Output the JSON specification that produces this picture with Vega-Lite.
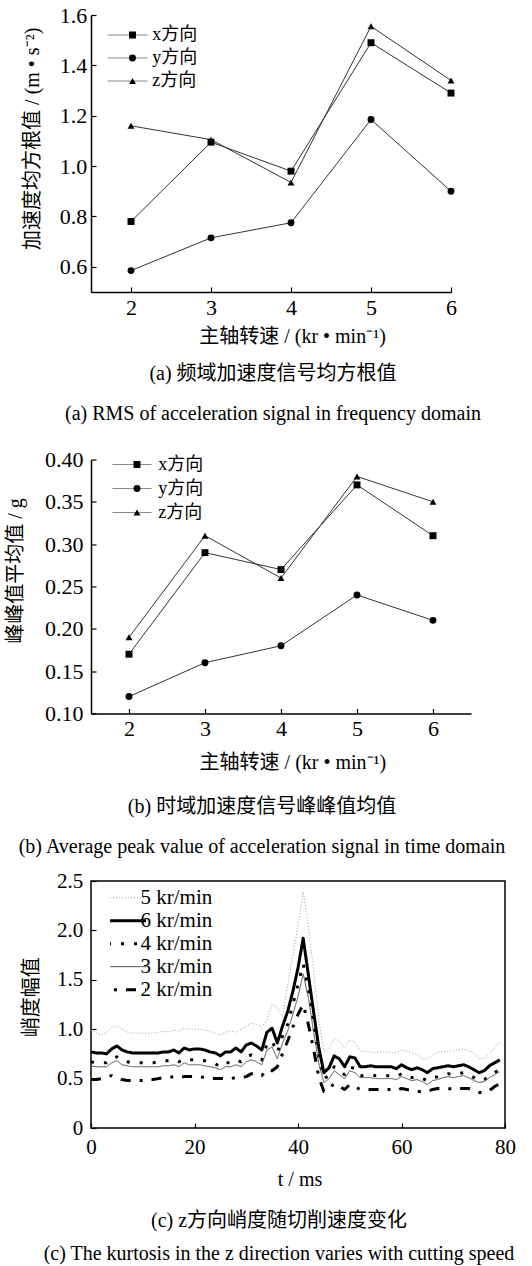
{
  "$schema": "https://vega.github.io/schema/vega-lite/v6.json",
  "padding": {"left": 5, "top": 4, "right": 0, "bottom": 0},
  "bounds": "flush",
  "spacing": 167.5,
  "resolve": {
    "scale": {"shape": "independent", "strokeWidth": "independent", "color": "independent", "strokeDash": "independent"},
    "legend": {"shape": "independent", "strokeWidth": "independent", "color": "independent", "strokeDash": "independent"}
  },
  "config": {
    "font": "Liberation Serif, Noto Sans CJK SC",
    "view": {"stroke": null},
    "axis": {
      "grid": false,
      "domainColor": "#000",
      "domainWidth": 1.5,
      "tickColor": "#000",
      "tickWidth": 1.2,
      "tickSize": -5,
      "labelColor": "#000",
      "labelFontSize": 22,
      "labelFlush": false,
      "labelOverlap": false,
      "titleColor": "#000",
      "titleFontSize": 20,
      "titleFontWeight": "normal",
      "titleBaseline": "middle"
    },
    "legend": {
      "padding": 0,
      "rowPadding": 0,
      "labelColor": "#000",
      "labelBaseline": "middle"
    },
    "title": {
      "fontSize": 20,
      "subtitleFontSize": 20,
      "fontWeight": "normal",
      "color": "#000",
      "subtitleColor": "#000",
      "subtitleFont": "Liberation Serif, Noto Sans CJK SC",
      "orient": "bottom",
      "anchor": "middle",
      "frame": "group"
    }
  },
  "datasets": {
    "freq": [
      {"speed": 2, "dir": "x方向", "rms": 0.78},
      {"speed": 3, "dir": "x方向", "rms": 1.095},
      {"speed": 4, "dir": "x方向", "rms": 0.98},
      {"speed": 5, "dir": "x方向", "rms": 1.49},
      {"speed": 6, "dir": "x方向", "rms": 1.29},
      {"speed": 2, "dir": "y方向", "rms": 0.585},
      {"speed": 3, "dir": "y方向", "rms": 0.715},
      {"speed": 4, "dir": "y方向", "rms": 0.775},
      {"speed": 5, "dir": "y方向", "rms": 1.185},
      {"speed": 6, "dir": "y方向", "rms": 0.9},
      {"speed": 2, "dir": "z方向", "rms": 1.16},
      {"speed": 3, "dir": "z方向", "rms": 1.105},
      {"speed": 4, "dir": "z方向", "rms": 0.935},
      {"speed": 5, "dir": "z方向", "rms": 1.555},
      {"speed": 6, "dir": "z方向", "rms": 1.34}
    ],
    "peak": [
      {"speed": 2, "dir": "x方向", "pp": 0.17},
      {"speed": 3, "dir": "x方向", "pp": 0.29},
      {"speed": 4, "dir": "x方向", "pp": 0.27},
      {"speed": 5, "dir": "x方向", "pp": 0.37},
      {"speed": 6, "dir": "x方向", "pp": 0.31},
      {"speed": 2, "dir": "y方向", "pp": 0.12},
      {"speed": 3, "dir": "y方向", "pp": 0.16},
      {"speed": 4, "dir": "y方向", "pp": 0.18},
      {"speed": 5, "dir": "y方向", "pp": 0.24},
      {"speed": 6, "dir": "y方向", "pp": 0.21},
      {"speed": 2, "dir": "z方向", "pp": 0.19},
      {"speed": 3, "dir": "z方向", "pp": 0.31},
      {"speed": 4, "dir": "z方向", "pp": 0.26},
      {"speed": 5, "dir": "z方向", "pp": 0.38},
      {"speed": 6, "dir": "z方向", "pp": 0.35}
    ],
    "kurt": [
      {"t":0,"rpm":5,"k":0.99},{"t":1,"rpm":5,"k":0.96},{"t":2,"rpm":5,"k":0.94},{"t":3,"rpm":5,"k":0.97},{"t":4,"rpm":5,"k":1.02},{"t":5,"rpm":5,"k":1.03},{"t":6,"rpm":5,"k":1.0},{"t":7,"rpm":5,"k":0.97},{"t":8,"rpm":5,"k":0.96},{"t":9,"rpm":5,"k":0.96},
      {"t":10,"rpm":5,"k":0.96},{"t":11,"rpm":5,"k":0.96},{"t":12,"rpm":5,"k":0.96},{"t":13,"rpm":5,"k":0.97},{"t":14,"rpm":5,"k":0.98},{"t":15,"rpm":5,"k":0.97},{"t":16,"rpm":5,"k":0.99},{"t":17,"rpm":5,"k":0.98},{"t":18,"rpm":5,"k":1.01},{"t":19,"rpm":5,"k":1.0},
      {"t":20,"rpm":5,"k":1.0},{"t":21,"rpm":5,"k":1.0},{"t":22,"rpm":5,"k":0.99},{"t":23,"rpm":5,"k":0.98},{"t":24,"rpm":5,"k":0.96},{"t":25,"rpm":5,"k":0.94},{"t":26,"rpm":5,"k":0.97},{"t":27,"rpm":5,"k":0.98},{"t":28,"rpm":5,"k":0.97},{"t":29,"rpm":5,"k":1.0},
      {"t":30,"rpm":5,"k":1.03},{"t":31,"rpm":5,"k":1.06},{"t":32,"rpm":5,"k":1.05},{"t":33,"rpm":5,"k":1.02},{"t":34,"rpm":5,"k":1.1},{"t":35,"rpm":5,"k":1.25},{"t":36,"rpm":5,"k":1.22},{"t":37,"rpm":5,"k":1.12},{"t":38,"rpm":5,"k":1.45},{"t":39,"rpm":5,"k":1.75},
      {"t":40,"rpm":5,"k":2.05},{"t":41,"rpm":5,"k":2.39},{"t":42,"rpm":5,"k":2.05},{"t":43,"rpm":5,"k":1.6},{"t":44,"rpm":5,"k":1.1},{"t":45,"rpm":5,"k":0.78},{"t":46,"rpm":5,"k":0.8},{"t":47,"rpm":5,"k":0.91},{"t":48,"rpm":5,"k":0.88},{"t":49,"rpm":5,"k":0.81},
      {"t":50,"rpm":5,"k":0.89},{"t":51,"rpm":5,"k":0.87},{"t":52,"rpm":5,"k":0.78},{"t":53,"rpm":5,"k":0.77},{"t":54,"rpm":5,"k":0.77},{"t":55,"rpm":5,"k":0.76},{"t":56,"rpm":5,"k":0.77},{"t":57,"rpm":5,"k":0.77},{"t":58,"rpm":5,"k":0.76},{"t":59,"rpm":5,"k":0.76},
      {"t":60,"rpm":5,"k":0.79},{"t":61,"rpm":5,"k":0.78},{"t":62,"rpm":5,"k":0.76},{"t":63,"rpm":5,"k":0.74},{"t":64,"rpm":5,"k":0.7},{"t":65,"rpm":5,"k":0.7},{"t":66,"rpm":5,"k":0.74},{"t":67,"rpm":5,"k":0.77},{"t":68,"rpm":5,"k":0.77},{"t":69,"rpm":5,"k":0.78},
      {"t":70,"rpm":5,"k":0.78},{"t":71,"rpm":5,"k":0.79},{"t":72,"rpm":5,"k":0.8},{"t":73,"rpm":5,"k":0.78},{"t":74,"rpm":5,"k":0.76},{"t":75,"rpm":5,"k":0.7},{"t":76,"rpm":5,"k":0.7},{"t":77,"rpm":5,"k":0.75},{"t":78,"rpm":5,"k":0.81},{"t":79,"rpm":5,"k":0.87},

      {"t":0,"rpm":6,"k":0.77},{"t":1,"rpm":6,"k":0.76},{"t":2,"rpm":6,"k":0.76},{"t":3,"rpm":6,"k":0.75},{"t":4,"rpm":6,"k":0.8},{"t":5,"rpm":6,"k":0.83},{"t":6,"rpm":6,"k":0.79},{"t":7,"rpm":6,"k":0.77},{"t":8,"rpm":6,"k":0.76},{"t":9,"rpm":6,"k":0.76},
      {"t":10,"rpm":6,"k":0.76},{"t":11,"rpm":6,"k":0.76},{"t":12,"rpm":6,"k":0.76},{"t":13,"rpm":6,"k":0.76},{"t":14,"rpm":6,"k":0.77},{"t":15,"rpm":6,"k":0.77},{"t":16,"rpm":6,"k":0.79},{"t":17,"rpm":6,"k":0.76},{"t":18,"rpm":6,"k":0.81},{"t":19,"rpm":6,"k":0.79},
      {"t":20,"rpm":6,"k":0.8},{"t":21,"rpm":6,"k":0.8},{"t":22,"rpm":6,"k":0.79},{"t":23,"rpm":6,"k":0.77},{"t":24,"rpm":6,"k":0.76},{"t":25,"rpm":6,"k":0.73},{"t":26,"rpm":6,"k":0.77},{"t":27,"rpm":6,"k":0.77},{"t":28,"rpm":6,"k":0.81},{"t":29,"rpm":6,"k":0.77},
      {"t":30,"rpm":6,"k":0.84},{"t":31,"rpm":6,"k":0.86},{"t":32,"rpm":6,"k":0.83},{"t":33,"rpm":6,"k":0.79},{"t":34,"rpm":6,"k":0.97},{"t":35,"rpm":6,"k":1.01},{"t":36,"rpm":6,"k":0.86},{"t":37,"rpm":6,"k":1.03},{"t":38,"rpm":6,"k":1.18},{"t":39,"rpm":6,"k":1.38},
      {"t":40,"rpm":6,"k":1.62},{"t":41,"rpm":6,"k":1.92},{"t":42,"rpm":6,"k":1.55},{"t":43,"rpm":6,"k":1.18},{"t":44,"rpm":6,"k":0.82},{"t":45,"rpm":6,"k":0.56},{"t":46,"rpm":6,"k":0.61},{"t":47,"rpm":6,"k":0.73},{"t":48,"rpm":6,"k":0.7},{"t":49,"rpm":6,"k":0.62},
      {"t":50,"rpm":6,"k":0.72},{"t":51,"rpm":6,"k":0.71},{"t":52,"rpm":6,"k":0.62},{"t":53,"rpm":6,"k":0.62},{"t":54,"rpm":6,"k":0.63},{"t":55,"rpm":6,"k":0.62},{"t":56,"rpm":6,"k":0.62},{"t":57,"rpm":6,"k":0.62},{"t":58,"rpm":6,"k":0.62},{"t":59,"rpm":6,"k":0.6},
      {"t":60,"rpm":6,"k":0.64},{"t":61,"rpm":6,"k":0.61},{"t":62,"rpm":6,"k":0.59},{"t":63,"rpm":6,"k":0.61},{"t":64,"rpm":6,"k":0.59},{"t":65,"rpm":6,"k":0.56},{"t":66,"rpm":6,"k":0.6},{"t":67,"rpm":6,"k":0.61},{"t":68,"rpm":6,"k":0.62},{"t":69,"rpm":6,"k":0.63},
      {"t":70,"rpm":6,"k":0.62},{"t":71,"rpm":6,"k":0.63},{"t":72,"rpm":6,"k":0.64},{"t":73,"rpm":6,"k":0.62},{"t":74,"rpm":6,"k":0.59},{"t":75,"rpm":6,"k":0.56},{"t":76,"rpm":6,"k":0.58},{"t":77,"rpm":6,"k":0.63},{"t":78,"rpm":6,"k":0.66},{"t":79,"rpm":6,"k":0.69},

      {"t":0,"rpm":4,"k":0.67},{"t":1,"rpm":4,"k":0.66},{"t":2,"rpm":4,"k":0.66},{"t":3,"rpm":4,"k":0.66},{"t":4,"rpm":4,"k":0.7},{"t":5,"rpm":4,"k":0.72},{"t":6,"rpm":4,"k":0.68},{"t":7,"rpm":4,"k":0.67},{"t":8,"rpm":4,"k":0.66},{"t":9,"rpm":4,"k":0.66},
      {"t":10,"rpm":4,"k":0.66},{"t":11,"rpm":4,"k":0.66},{"t":12,"rpm":4,"k":0.66},{"t":13,"rpm":4,"k":0.67},{"t":14,"rpm":4,"k":0.68},{"t":15,"rpm":4,"k":0.68},{"t":16,"rpm":4,"k":0.69},{"t":17,"rpm":4,"k":0.67},{"t":18,"rpm":4,"k":0.7},{"t":19,"rpm":4,"k":0.69},
      {"t":20,"rpm":4,"k":0.69},{"t":21,"rpm":4,"k":0.69},{"t":22,"rpm":4,"k":0.68},{"t":23,"rpm":4,"k":0.67},{"t":24,"rpm":4,"k":0.65},{"t":25,"rpm":4,"k":0.62},{"t":26,"rpm":4,"k":0.66},{"t":27,"rpm":4,"k":0.66},{"t":28,"rpm":4,"k":0.69},{"t":29,"rpm":4,"k":0.67},
      {"t":30,"rpm":4,"k":0.72},{"t":31,"rpm":4,"k":0.74},{"t":32,"rpm":4,"k":0.72},{"t":33,"rpm":4,"k":0.69},{"t":34,"rpm":4,"k":0.85},{"t":35,"rpm":4,"k":0.88},{"t":36,"rpm":4,"k":0.76},{"t":37,"rpm":4,"k":0.93},{"t":38,"rpm":4,"k":1.05},{"t":39,"rpm":4,"k":1.25},
      {"t":40,"rpm":4,"k":1.45},{"t":41,"rpm":4,"k":1.66},{"t":42,"rpm":4,"k":1.4},{"t":43,"rpm":4,"k":1.05},{"t":44,"rpm":4,"k":0.7},{"t":45,"rpm":4,"k":0.5},{"t":46,"rpm":4,"k":0.53},{"t":47,"rpm":4,"k":0.62},{"t":48,"rpm":4,"k":0.58},{"t":49,"rpm":4,"k":0.54},
      {"t":50,"rpm":4,"k":0.62},{"t":51,"rpm":4,"k":0.6},{"t":52,"rpm":4,"k":0.53},{"t":53,"rpm":4,"k":0.53},{"t":54,"rpm":4,"k":0.54},{"t":55,"rpm":4,"k":0.53},{"t":56,"rpm":4,"k":0.53},{"t":57,"rpm":4,"k":0.53},{"t":58,"rpm":4,"k":0.53},{"t":59,"rpm":4,"k":0.52},
      {"t":60,"rpm":4,"k":0.55},{"t":61,"rpm":4,"k":0.53},{"t":62,"rpm":4,"k":0.51},{"t":63,"rpm":4,"k":0.52},{"t":64,"rpm":4,"k":0.5},{"t":65,"rpm":4,"k":0.48},{"t":66,"rpm":4,"k":0.51},{"t":67,"rpm":4,"k":0.52},{"t":68,"rpm":4,"k":0.54},{"t":69,"rpm":4,"k":0.55},
      {"t":70,"rpm":4,"k":0.54},{"t":71,"rpm":4,"k":0.55},{"t":72,"rpm":4,"k":0.56},{"t":73,"rpm":4,"k":0.54},{"t":74,"rpm":4,"k":0.51},{"t":75,"rpm":4,"k":0.48},{"t":76,"rpm":4,"k":0.49},{"t":77,"rpm":4,"k":0.53},{"t":78,"rpm":4,"k":0.56},{"t":79,"rpm":4,"k":0.6},

      {"t":0,"rpm":3,"k":0.63},{"t":1,"rpm":3,"k":0.62},{"t":2,"rpm":3,"k":0.62},{"t":3,"rpm":3,"k":0.62},{"t":4,"rpm":3,"k":0.66},{"t":5,"rpm":3,"k":0.68},{"t":6,"rpm":3,"k":0.64},{"t":7,"rpm":3,"k":0.63},{"t":8,"rpm":3,"k":0.62},{"t":9,"rpm":3,"k":0.62},
      {"t":10,"rpm":3,"k":0.62},{"t":11,"rpm":3,"k":0.62},{"t":12,"rpm":3,"k":0.62},{"t":13,"rpm":3,"k":0.62},{"t":14,"rpm":3,"k":0.63},{"t":15,"rpm":3,"k":0.63},{"t":16,"rpm":3,"k":0.64},{"t":17,"rpm":3,"k":0.62},{"t":18,"rpm":3,"k":0.66},{"t":19,"rpm":3,"k":0.64},
      {"t":20,"rpm":3,"k":0.64},{"t":21,"rpm":3,"k":0.64},{"t":22,"rpm":3,"k":0.63},{"t":23,"rpm":3,"k":0.62},{"t":24,"rpm":3,"k":0.61},{"t":25,"rpm":3,"k":0.59},{"t":26,"rpm":3,"k":0.62},{"t":27,"rpm":3,"k":0.62},{"t":28,"rpm":3,"k":0.64},{"t":29,"rpm":3,"k":0.62},
      {"t":30,"rpm":3,"k":0.67},{"t":31,"rpm":3,"k":0.69},{"t":32,"rpm":3,"k":0.67},{"t":33,"rpm":3,"k":0.64},{"t":34,"rpm":3,"k":0.79},{"t":35,"rpm":3,"k":0.82},{"t":36,"rpm":3,"k":0.7},{"t":37,"rpm":3,"k":0.86},{"t":38,"rpm":3,"k":0.98},{"t":39,"rpm":3,"k":1.15},
      {"t":40,"rpm":3,"k":1.33},{"t":41,"rpm":3,"k":1.56},{"t":42,"rpm":3,"k":1.32},{"t":43,"rpm":3,"k":0.98},{"t":44,"rpm":3,"k":0.66},{"t":45,"rpm":3,"k":0.46},{"t":46,"rpm":3,"k":0.5},{"t":47,"rpm":3,"k":0.58},{"t":48,"rpm":3,"k":0.54},{"t":49,"rpm":3,"k":0.5},
      {"t":50,"rpm":3,"k":0.58},{"t":51,"rpm":3,"k":0.56},{"t":52,"rpm":3,"k":0.51},{"t":53,"rpm":3,"k":0.51},{"t":54,"rpm":3,"k":0.51},{"t":55,"rpm":3,"k":0.5},{"t":56,"rpm":3,"k":0.5},{"t":57,"rpm":3,"k":0.5},{"t":58,"rpm":3,"k":0.5},{"t":59,"rpm":3,"k":0.49},
      {"t":60,"rpm":3,"k":0.52},{"t":61,"rpm":3,"k":0.5},{"t":62,"rpm":3,"k":0.48},{"t":63,"rpm":3,"k":0.49},{"t":64,"rpm":3,"k":0.47},{"t":65,"rpm":3,"k":0.44},{"t":66,"rpm":3,"k":0.48},{"t":67,"rpm":3,"k":0.49},{"t":68,"rpm":3,"k":0.51},{"t":69,"rpm":3,"k":0.52},
      {"t":70,"rpm":3,"k":0.51},{"t":71,"rpm":3,"k":0.52},{"t":72,"rpm":3,"k":0.53},{"t":73,"rpm":3,"k":0.51},{"t":74,"rpm":3,"k":0.48},{"t":75,"rpm":3,"k":0.46},{"t":76,"rpm":3,"k":0.47},{"t":77,"rpm":3,"k":0.51},{"t":78,"rpm":3,"k":0.54},{"t":79,"rpm":3,"k":0.57},

      {"t":0,"rpm":2,"k":0.49},{"t":1,"rpm":2,"k":0.49},{"t":2,"rpm":2,"k":0.5},{"t":3,"rpm":2,"k":0.52},{"t":4,"rpm":2,"k":0.53},{"t":5,"rpm":2,"k":0.51},{"t":6,"rpm":2,"k":0.49},{"t":7,"rpm":2,"k":0.48},{"t":8,"rpm":2,"k":0.48},{"t":9,"rpm":2,"k":0.48},
      {"t":10,"rpm":2,"k":0.48},{"t":11,"rpm":2,"k":0.49},{"t":12,"rpm":2,"k":0.49},{"t":13,"rpm":2,"k":0.5},{"t":14,"rpm":2,"k":0.51},{"t":15,"rpm":2,"k":0.51},{"t":16,"rpm":2,"k":0.52},{"t":17,"rpm":2,"k":0.51},{"t":18,"rpm":2,"k":0.52},{"t":19,"rpm":2,"k":0.52},
      {"t":20,"rpm":2,"k":0.52},{"t":21,"rpm":2,"k":0.52},{"t":22,"rpm":2,"k":0.51},{"t":23,"rpm":2,"k":0.5},{"t":24,"rpm":2,"k":0.5},{"t":25,"rpm":2,"k":0.5},{"t":26,"rpm":2,"k":0.5},{"t":27,"rpm":2,"k":0.5},{"t":28,"rpm":2,"k":0.51},{"t":29,"rpm":2,"k":0.51},
      {"t":30,"rpm":2,"k":0.52},{"t":31,"rpm":2,"k":0.55},{"t":32,"rpm":2,"k":0.55},{"t":33,"rpm":2,"k":0.53},{"t":34,"rpm":2,"k":0.59},{"t":35,"rpm":2,"k":0.58},{"t":36,"rpm":2,"k":0.62},{"t":37,"rpm":2,"k":0.75},{"t":38,"rpm":2,"k":0.88},{"t":39,"rpm":2,"k":1.02},
      {"t":40,"rpm":2,"k":1.15},{"t":41,"rpm":2,"k":1.25},{"t":42,"rpm":2,"k":1.05},{"t":43,"rpm":2,"k":0.8},{"t":44,"rpm":2,"k":0.52},{"t":45,"rpm":2,"k":0.37},{"t":46,"rpm":2,"k":0.4},{"t":47,"rpm":2,"k":0.45},{"t":48,"rpm":2,"k":0.42},{"t":49,"rpm":2,"k":0.39},
      {"t":50,"rpm":2,"k":0.44},{"t":51,"rpm":2,"k":0.42},{"t":52,"rpm":2,"k":0.39},{"t":53,"rpm":2,"k":0.39},{"t":54,"rpm":2,"k":0.39},{"t":55,"rpm":2,"k":0.39},{"t":56,"rpm":2,"k":0.39},{"t":57,"rpm":2,"k":0.39},{"t":58,"rpm":2,"k":0.39},{"t":59,"rpm":2,"k":0.38},
      {"t":60,"rpm":2,"k":0.4},{"t":61,"rpm":2,"k":0.39},{"t":62,"rpm":2,"k":0.38},{"t":63,"rpm":2,"k":0.37},{"t":64,"rpm":2,"k":0.37},{"t":65,"rpm":2,"k":0.37},{"t":66,"rpm":2,"k":0.39},{"t":67,"rpm":2,"k":0.4},{"t":68,"rpm":2,"k":0.4},{"t":69,"rpm":2,"k":0.4},
      {"t":70,"rpm":2,"k":0.39},{"t":71,"rpm":2,"k":0.4},{"t":72,"rpm":2,"k":0.4},{"t":73,"rpm":2,"k":0.4},{"t":74,"rpm":2,"k":0.38},{"t":75,"rpm":2,"k":0.36},{"t":76,"rpm":2,"k":0.36},{"t":77,"rpm":2,"k":0.38},{"t":78,"rpm":2,"k":0.42},{"t":79,"rpm":2,"k":0.45}
    ]
  },
  "vconcat": [
    {
      "width": 360,
      "height": 277,
      "data": {"name": "freq"},
      "title": {
        "text": "(a)  频域加速度信号均方根值",
        "subtitle": "(a)  RMS of acceleration signal in frequency domain",
        "offset": 18,
        "subtitlePadding": 20,
        "dx": 2
      },
      "encoding": {
        "x": {
          "field": "speed",
          "type": "quantitative",
          "scale": {"domain": [1.5, 6], "nice": false},
          "axis": {
            "values": [2, 3, 4, 5, 6],
            "format": "d",
            "labelPadding": 10.5,
            "title": "主轴转速 / (kr • min⁻¹)",
            "titleX": 201,
            "titleY": 44.4
          }
        },
        "y": {
          "field": "rms",
          "type": "quantitative",
          "scale": {"domain": [0.5, 1.6], "nice": false, "zero": false},
          "axis": {
            "values": [0.6, 0.8, 1.0, 1.2, 1.4, 1.6],
            "format": ".1f",
            "labelPadding": 9.3,
            "title": "加速度均方根值 / (m • s⁻²)",
            "titleX": -58.5,
            "titleY": 123.3
          }
        }
      },
      "layer": [
        {
          "mark": {"type": "line", "color": "#333"},
          "encoding": {
            "strokeWidth": {
              "field": "dir",
              "type": "ordinal",
              "scale": {"domain": ["x方向", "y方向", "z方向"], "range": [1, 1, 1]},
              "legend": {
                "orient": "none",
                "legendX": 16,
                "legendY": 8.5,
                "title": null,
                "symbolType": "stroke",
                "symbolSize": 1600,
                "symbolStrokeColor": "#8a8a8a",
                "symbolStrokeWidth": 1,
                "labelExpr": "''",
                "clipHeight": 23
              }
            }
          }
        },
        {
          "mark": {"type": "point", "filled": true, "color": "#000", "opacity": 1, "size": 48},
          "encoding": {
            "shape": {
              "field": "dir",
              "type": "nominal",
              "scale": {"range": ["square", "circle", "triangle-up"]},
              "legend": {
                "orient": "none",
                "legendX": 32.5,
                "legendY": 8.5,
                "title": null,
                "symbolSize": 48,
                "symbolFillColor": "#000",
                "symbolStrokeWidth": 0,
                "labelFontSize": 18,
                "labelOffset": 10.8,
                "clipHeight": 23
              }
            }
          }
        }
      ]
    },
    {
      "width": 380,
      "height": 254,
      "data": {"name": "peak"},
      "title": {
        "text": "(b)  时域加速度信号峰峰值均值",
        "subtitle": "(b)  Average peak value of acceleration signal in time domain",
        "offset": 24.5,
        "subtitlePadding": 20,
        "dx": -19
      },
      "encoding": {
        "x": {
          "field": "speed",
          "type": "quantitative",
          "scale": {"domain": [1.5, 6.5], "nice": false},
          "axis": {
            "values": [2, 3, 4, 5, 6],
            "format": "d",
            "labelPadding": 10,
            "title": "主轴转速 / (kr • min⁻¹)",
            "titleX": 201.4,
            "titleY": 49
          }
        },
        "y": {
          "field": "pp",
          "type": "quantitative",
          "scale": {"domain": [0.1, 0.4], "nice": false, "zero": false},
          "axis": {
            "values": [0.1, 0.15, 0.2, 0.25, 0.3, 0.35, 0.4],
            "format": ".2f",
            "labelPadding": 13,
            "title": "峰峰值平均值 / g",
            "titleX": -75.7,
            "titleY": 111
          }
        }
      },
      "layer": [
        {
          "mark": {"type": "line", "color": "#333"},
          "encoding": {
            "strokeWidth": {
              "field": "dir",
              "type": "ordinal",
              "scale": {"domain": ["x方向", "y方向", "z方向"], "range": [1, 1, 1]},
              "legend": {
                "orient": "none",
                "legendX": 21,
                "legendY": -6.75,
                "title": null,
                "symbolType": "stroke",
                "symbolSize": 1521,
                "symbolStrokeColor": "#8a8a8a",
                "symbolStrokeWidth": 1,
                "labelExpr": "''",
                "clipHeight": 23.5
              }
            }
          }
        },
        {
          "mark": {"type": "point", "filled": true, "color": "#000", "opacity": 1, "size": 48},
          "encoding": {
            "shape": {
              "field": "dir",
              "type": "nominal",
              "scale": {"range": ["square", "circle", "triangle-up"]},
              "legend": {
                "orient": "none",
                "legendX": 37,
                "legendY": -6.75,
                "title": null,
                "symbolSize": 48,
                "symbolFillColor": "#000",
                "symbolStrokeWidth": 0,
                "labelFontSize": 18,
                "labelOffset": 12.2,
                "clipHeight": 23.5
              }
            }
          }
        }
      ]
    },
    {
      "width": 414,
      "height": 247,
      "view": {"stroke": "#000", "strokeWidth": 1.5},
      "data": {"name": "kurt"},
      "title": {
        "text": "(c)  z方向峭度随切削速度变化",
        "subtitle": "(c)  The kurtosis in the z direction varies with cutting speed",
        "offset": 21,
        "subtitlePadding": 13.3,
        "dx": -19
      },
      "mark": {"type": "line", "strokeCap": "butt", "strokeJoin": "round"},
      "encoding": {
        "x": {
          "field": "t",
          "type": "quantitative",
          "scale": {"domain": [0, 80], "nice": false},
          "axis": {
            "values": [0, 20, 40, 60, 80],
            "domain": false,
            "labelFontSize": 21,
            "labelPadding": 13.7,
            "title": "t / ms",
            "titleX": 208.5,
            "titleY": 51.7
          }
        },
        "y": {
          "field": "k",
          "type": "quantitative",
          "scale": {"domain": [0, 2.5], "nice": false},
          "axis": {
            "values": [0, 0.5, 1, 1.5, 2, 2.5],
            "domain": false,
            "labelFontSize": 21,
            "labelExpr": "datum.value === 0 ? '0' : format(datum.value, '.1f')",
            "labelPadding": 13.2,
            "title": "峭度幅值",
            "titleX": -59.4,
            "titleY": 115.7
          }
        },
        "color": {
          "field": "rpm",
          "type": "nominal",
          "scale": {
            "domain": [5, 6, 4, 3, 2],
            "range": ["#a0a0a0", "#000000", "#000000", "#555555", "#000000"]
          },
          "legend": {
            "orient": "none",
            "legendX": 19,
            "legendY": 5.5,
            "title": null,
            "symbolType": "stroke",
            "symbolSize": 2601,
            "symbolStrokeWidth": {"expr": "indexof([2, 4, 6], datum.value) >= 0 ? 3 : 1"},
            "labelExpr": "datum.label + ' kr/min'",
            "labelFontSize": 21,
            "labelOffset": 9.5,
            "clipHeight": 22.4
          }
        },
        "strokeDash": {
          "field": "rpm",
          "type": "nominal",
          "scale": {
            "domain": [5, 6, 4, 3, 2],
            "range": [[1, 2], [1, 0], [3, 10], [1, 0], [10, 9, 3, 9]]
          }
        },
        "strokeWidth": {
          "field": "rpm",
          "type": "quantitative",
          "scale": {"type": "threshold", "domain": [2.5, 3.5, 4.5, 5.5], "range": [3, 1, 3, 1, 3]},
          "legend": null
        }
      }
    }
  ]
}
